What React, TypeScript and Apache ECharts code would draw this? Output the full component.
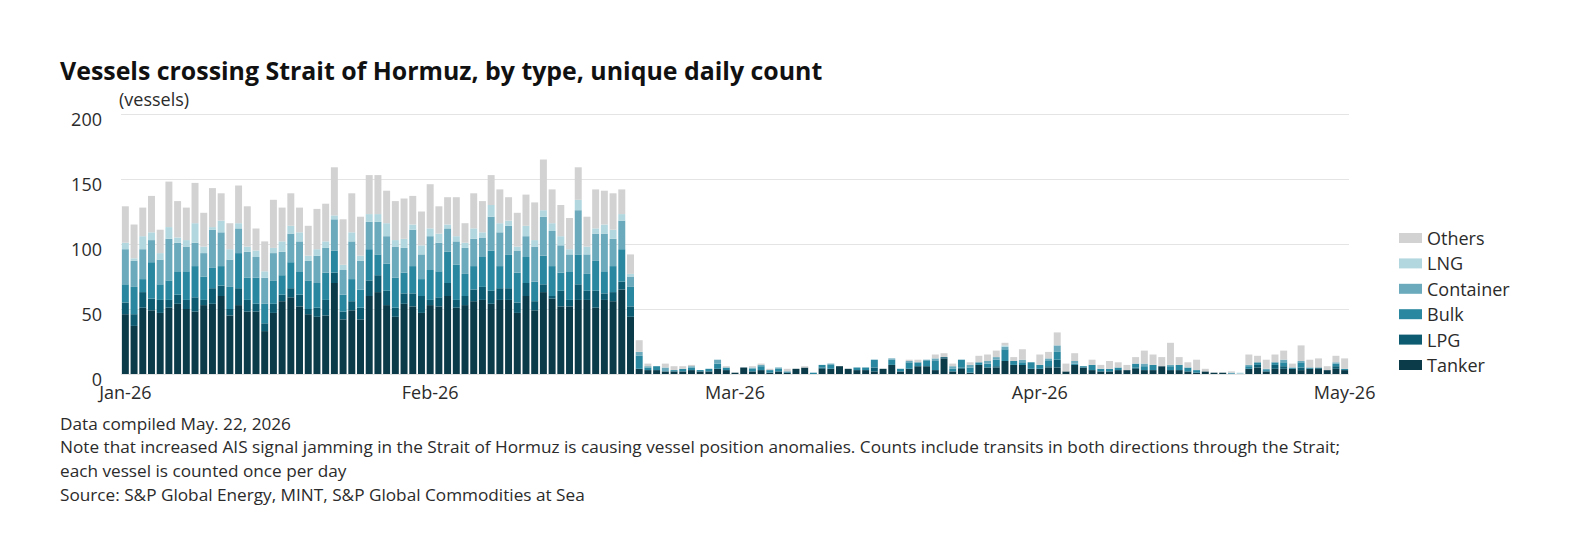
import React, { useEffect, useRef } from "react";
import * as echarts from "echarts";

// daily counts, Jan 1 2026 .. May 21 2026 (141 days)
const startDay = Date.UTC(2026, 0, 1);
const dayCount = 141;
const monthLabels = ["Jan-26", "Feb-26", "Mar-26", "Apr-26", "May-26"];
const labelStep = 35; // month labels sit evenly along the axis

const seriesNames = ["Tanker", "LPG", "Bulk", "Container", "LNG", "Others"];
const seriesColors = ["#0b3a49", "#0d5b71", "#2a87a0", "#6aaabc", "#b2d7df", "#d2d2d2"];

const tanker = [
  46, 37, 51, 49, 47, 51, 54, 50, 48, 53, 54, 60, 45, 53, 48, 48, 33, 47, 56, 59,
  52, 46, 44, 45, 70, 42, 49, 42, 60, 63, 53, 44, 54, 52, 47, 53, 52, 60, 51, 53,
  56, 57, 54, 57, 57, 47, 60, 49, 63, 58, 52, 52, 57, 57, 51, 57, 56, 65, 44,
  4, 3, 3, 2, 2, 2, 3, 2, 2, 4, 3, 1, 5, 2, 3, 1, 2, 1, 4, 5,
  0, 4, 4, 6, 4, 3, 3, 2, 4, 7, 2, 4, 6, 6, 3, 12, 2, 4, 1, 7,
  5, 5, 10, 7, 7, 4, 4, 5, 5, 2, 7, 5, 3, 2, 2, 3, 3, 4, 3, 3,
  6, 3, 3, 2, 1, 2, 1, 1, 0, 0, 4, 5, 2, 4, 4, 4, 3, 4, 4, 3,
  4, 3,
];
const lpg = [
  9, 9, 12, 9, 10, 6, 7, 7, 11, 4, 12, 8, 5, 13, 9, 6, 6, 7, 5, 7,
  9, 4, 7, 12, 8, 6, 7, 9, 12, 13, 11, 7, 8, 10, 13, 4, 7, 10, 6, 7,
  9, 10, 10, 9, 9, 8, 10, 7, 6, 2, 12, 5, 12, 7, 13, 5, 7, 6, 8,
  0, 0, 0, 0, 0, 0, 0, 0, 0, 0, 0, 0, 0, 0, 0, 0, 0, 0, 0, 0,
  0, 1, 0, 0, 0, 0, 0, 3, 0, 0, 0, 0, 0, 0, 0, 1, 0, 1, 0, 0,
  0, 1, 0, 0, 0, 0, 0, 1, 6, 0, 0, 0, 0, 0, 0, 0, 0, 1, 0, 0,
  0, 0, 0, 0, 0, 0, 0, 0, 0, 0, 0, 2, 0, 3, 2, 0, 2, 0, 1, 0,
  2, 0,
];
const bulk = [
  14, 21, 10, 28, 12, 15, 18, 22, 24, 18, 16, 15, 17, 27, 17, 20, 15, 18, 15, 20,
  18, 22, 19, 21, 17, 13, 17, 14, 24, 16, 21, 23, 16, 21, 13, 23, 20, 24, 27, 17,
  18, 23, 31, 17, 26, 23, 20, 15, 22, 23, 14, 22, 23, 13, 23, 17, 20, 25, 15,
  10, 2, 3, 0, 1, 2, 2, 1, 2, 4, 2, 0, 0, 2, 3, 2, 2, 1, 0, 0,
  1, 2, 3, 0, 0, 2, 2, 6, 0, 4, 2, 5, 3, 4, 7, 0, 2, 6, 4, 2,
  3, 5, 9, 3, 2, 5, 3, 4, 6, 0, 1, 1, 4, 2, 2, 2, 0, 3, 3, 4,
  0, 3, 4, 3, 2, 0, 0, 0, 0, 0, 2, 2, 1, 2, 3, 1, 4, 1, 0, 0,
  2, 1,
];
const container = [
  27, 20, 23, 17, 19, 32, 22, 19, 18, 18, 29, 26, 21, 19, 20, 16, 20, 21, 18, 22,
  23, 15, 21, 19, 24, 19, 29, 22, 21, 25, 21, 24, 19, 28, 19, 26, 22, 18, 18, 20,
  21, 15, 26, 26, 22, 17, 16, 27, 30, 27, 21, 13, 34, 15, 21, 29, 21, 22, 8,
  3, 1, 0, 3, 0, 0, 1, 0, 0, 3, 0, 0, 0, 1, 1, 0, 1, 0, 0, 0,
  0, 0, 1, 0, 0, 0, 0, 0, 0, 1, 0, 1, 0, 1, 2, 0, 2, 0, 2, 0,
  2, 2, 2, 0, 2, 0, 0, 2, 5, 0, 2, 0, 0, 0, 0, 0, 0, 0, 2, 0,
  0, 1, 0, 0, 0, 0, 0, 0, 1, 0, 1, 0, 1, 0, 2, 0, 1, 0, 0, 0,
  1, 0,
];
const lng = [
  5, 2, 10, 6, 5, 9, 4, 5, 15, 5, 2, 9, 8, 4, 4, 5, 5, 4, 8, 6,
  7, 4, 5, 5, 3, 4, 7, 4, 6, 6, 10, 5, 7, 4, 7, 6, 7, 3, 4, 4,
  8, 4, 9, 7, 4, 3, 8, 5, 5, 6, 7, 4, 8, 6, 4, 7, 7, 5, 2,
  0, 0, 0, 0, 0, 0, 0, 0, 0, 0, 0, 0, 0, 0, 0, 0, 0, 0, 0, 0,
  0, 0, 0, 0, 0, 0, 0, 0, 0, 0, 0, 0, 0, 0, 0, 0, 0, 0, 0, 0,
  0, 0, 1, 0, 0, 0, 0, 0, 0, 0, 0, 0, 0, 0, 0, 0, 0, 0, 0, 0,
  0, 0, 0, 0, 0, 0, 0, 0, 0, 1, 0, 0, 0, 0, 0, 0, 0, 0, 0, 0,
  0, 0,
];
const others = [
  28, 26, 22, 28, 18, 35, 28, 25, 31, 26, 30, 21, 20, 29, 31, 17, 23, 37, 26, 25,
  19, 23, 31, 29, 37, 35, 30, 30, 30, 30, 25, 30, 31, 22, 26, 34, 21, 21, 30, 15,
  27, 24, 23, 26, 18, 26, 24, 29, 39, 26, 24, 24, 25, 23, 30, 26, 28, 19, 15,
  9, 2, 0, 3, 3, 2, 1, 0, 0, 0, 1, 0, 0, 1, 1, 1, 0, 2, 0, 1,
  0, 0, 0, 0, 0, 0, 0, 0, 0, 0, 0, 1, 2, 0, 3, 3, 2, 0, 2, 5,
  5, 5, 2, 3, 8, 0, 8, 5, 10, 6, 6, 0, 4, 3, 6, 4, 4, 5, 10, 8,
  7, 17, 6, 4, 8, 2, 0, 0, 1, 0, 8, 5, 7, 6, 7, 3, 12, 6, 7, 3,
  5, 8,
];

const yTicks = { min: 0, max: 200, interval: 50 };

const title = "Vessels crossing Strait of Hormuz, by type, unique daily count";
const unitLabel = "(vessels)";
const footnotes = [
  "Data compiled May. 22, 2026",
  "Note that increased AIS signal jamming in the Strait of Hormuz is causing vessel position anomalies. Counts include transits in both directions through the Strait;",
  "each vessel is counted once per day",
  "Source: S&P Global Energy, MINT, S&P Global Commodities at Sea",
];

const FONT = "'Open Sans', sans-serif";
const TEXT = "#2b2b2b";

const days: string[] = [];
for (let i = 0; i < dayCount; i++) {
  days.push(new Date(startDay + i * 86400000).toISOString().slice(0, 10));
}

const App: React.FC = () => {
  const ref = useRef<HTMLDivElement>(null);

  useEffect(() => {
    document.body.style.margin = "0";
    if (!ref.current) return;
    const chart = echarts.init(ref.current, undefined, { renderer: "svg" });

    const values = [tanker, lpg, bulk, container, lng, others];

    chart.setOption({
      animation: false,
      textStyle: { fontFamily: FONT },
      grid: { left: 121, right: 225, top: 114, bottom: 168 },
      legend: {
        data: [...seriesNames].reverse(),
        orient: "vertical",
        left: 1394,
        top: 224,
        icon: "rect",
        itemWidth: 23,
        itemHeight: 10,
        itemGap: 7.4,
        selectedMode: false,
        textStyle: { fontSize: 18, lineHeight: 18, color: TEXT, fontFamily: FONT },
      },
      xAxis: {
        type: "category",
        data: days,
        axisLine: { show: false },
        axisTick: { show: false },
        axisLabel: {
          interval: (index: number) => index % labelStep === 0,
          formatter: (_v: string, index: number) => monthLabels[index / labelStep],
          fontSize: 18,
          color: TEXT,
          margin: 9,
          fontFamily: FONT,
        },
      },
      yAxis: {
        type: "value",
        ...yTicks,
        axisLine: { show: false },
        axisTick: { show: false },
        splitLine: { lineStyle: { color: "#e4e4e4", width: 1 } },
        axisLabel: {
          fontSize: 18,
          color: TEXT,
          margin: 19,
          verticalAlign: "top",
          lineHeight: 10,
          fontFamily: FONT,
        },
      },
      series: seriesNames.map((name, i) => ({
        name,
        type: "bar",
        stack: "total",
        barCategoryGap: "20%",
        itemStyle: { color: seriesColors[i] },
        data: values[i],
      })),
      graphic: [
        {
          type: "text",
          x: 60,
          y: 70,
          style: {
            text: title,
            fill: "#111",
            fontSize: 24.9,
            fontWeight: "bold",
            fontFamily: FONT,
            verticalAlign: "middle",
          },
        },
        {
          type: "text",
          x: 119,
          y: 99,
          style: {
            text: unitLabel,
            fill: TEXT,
            fontSize: 18,
            fontFamily: FONT,
            verticalAlign: "middle",
          },
        },
        ...footnotes.map((t, i) => ({
          type: "text",
          x: 60,
          y: 423 + i * 23.7,
          style: {
            text: t,
            fill: TEXT,
            fontSize: 17.2,
            fontFamily: FONT,
            verticalAlign: "middle",
          },
        })),
      ],
    });

    return () => {
      chart.dispose();
    };
  }, []);

  return <div ref={ref} style={{ width: 1574, height: 542 }} />;
};

export default App;
